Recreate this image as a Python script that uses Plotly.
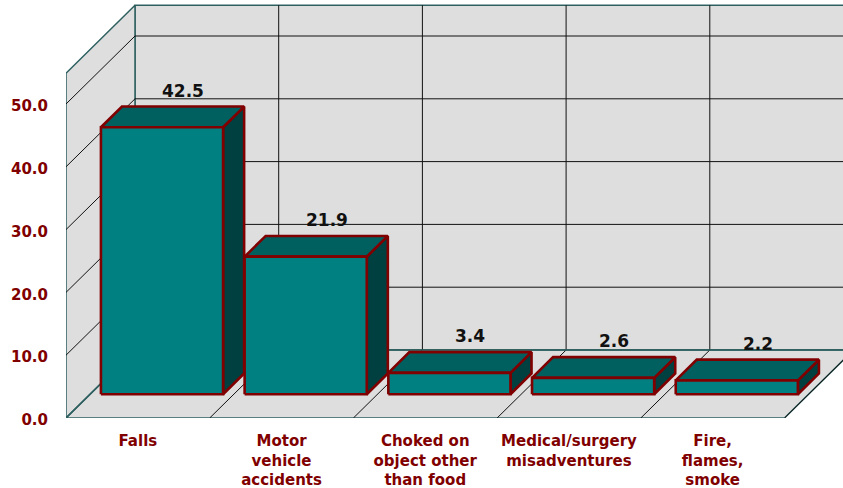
import plotly.graph_objects as go

categories = ["Falls", "Motor<br>vehicle<br>accidents", "Choked on<br>object other<br>than food",
              "Medical/surgery<br>misadventures", "Fire,<br>flames,<br>smoke"]
values = [42.5, 21.9, 3.4, 2.6, 2.2]
value_labels = ["42.5", "21.9", "3.4", "2.6", "2.2"]
y_ticks = [0, 10, 20, 30, 40, 50]
y_tick_labels = ["0.0", "10.0", "20.0", "30.0", "40.0", "50.0"]
y_top = 54.9

# pseudo 3D projection: how far one unit of depth moves a point, in axis units
DEPTH_X = 69 / 143.7
DEPTH_Y = 68 / 6.28
BAR_FRONT = 0.35
BAR_BACK = 0.655
BAR_INSET = 0.075

WALL = "#dedede"
EDGE = "#2f6060"
RED = "#800000"
FONT = "DejaVu Sans"


def pt(x, y, d=0):
    return x + d * DEPTH_X, y + d * DEPTH_Y


def poly(points, fill=None, color=EDGE, width=1.5, closed=True):
    if closed:
        points = points + [points[0]]
    return go.Scatter(
        x=[p[0] for p in points], y=[p[1] for p in points],
        mode="lines", line=dict(color=color, width=width),
        fill="toself" if fill else None, fillcolor=fill,
        hoverinfo="skip", showlegend=False, cliponaxis=False,
    )


n = len(values)
fig = go.Figure()

# walls and floor
fig.add_trace(poly([pt(0, 0, 1), pt(n, 0, 1), pt(n, y_top, 1), pt(0, y_top, 1)], fill=WALL))
fig.add_trace(poly([pt(0, 0), pt(0, 0, 1), pt(0, y_top, 1), pt(0, y_top)], fill=WALL))
fig.add_trace(poly([pt(0, 0), pt(n, 0), pt(n, 0, 1), pt(0, 0, 1)], fill=WALL))

# gridlines
for v in y_ticks[1:]:
    fig.add_trace(poly([pt(0, v), pt(0, v, 1), pt(n, v, 1)], color="#111111", width=1, closed=False))
for i in range(1, n + 1):
    fig.add_trace(poly([pt(i, 0), pt(i, 0, 1), pt(i, y_top, 1)], color="#111111", width=1, closed=False))
fig.add_trace(poly([pt(0, 0), pt(0, 0, 1), pt(n, 0, 1)], closed=False))

# bars, left to right so each one overlaps its neighbour's side face
for i, v in enumerate(values):
    x0, x1 = i + BAR_INSET, i + 1 - BAR_INSET
    fig.add_trace(poly([pt(x1, 0, BAR_FRONT), pt(x1, 0, BAR_BACK), pt(x1, v, BAR_BACK), pt(x1, v, BAR_FRONT)],
                       fill="#004040", color=RED, width=2.6))
    fig.add_trace(poly([pt(x0, v, BAR_FRONT), pt(x1, v, BAR_FRONT), pt(x1, v, BAR_BACK), pt(x0, v, BAR_BACK)],
                       fill="#006060", color=RED, width=2.6))
    fig.add_trace(poly([pt(x0, 0, BAR_FRONT), pt(x1, 0, BAR_FRONT), pt(x1, v, BAR_FRONT), pt(x0, v, BAR_FRONT)],
                       fill="#008080", color=RED, width=2.6))

# value labels sit over the back edge of each bar's top
for i, v in enumerate(values):
    lx, ly = pt(i + 0.5, v, BAR_BACK)
    fig.add_annotation(x=lx, y=ly, text=value_labels[i], showarrow=False, yshift=16,
                       font=dict(family=FONT, size=17, color="#111111", weight="bold"))

fig.update_layout(
    width=843, height=488,
    autosize=False,
    margin=dict(l=0, r=0, t=0, b=0),
    paper_bgcolor="white", plot_bgcolor="rgba(0,0,0,0)",
    showlegend=False,
    xaxis=dict(
        domain=[66 / 843, 1], range=[0, 777 / 143.7],
        tickmode="array", tickvals=[i + 0.5 for i in range(n)], ticktext=categories,
        tickangle=0, ticks="", ticklabelstandoff=12,
        tickfont=dict(family=FONT, size=15, color=RED, weight="bold"),
        showgrid=False, zeroline=False, showline=False, automargin=False,
    ),
    yaxis=dict(
        domain=[70 / 488, 1], range=[0, 418 / 6.28],
        tickmode="array", tickvals=y_ticks, ticktext=y_tick_labels,
        ticks="", ticklabelstandoff=17, ticklabelshift=2,
        tickfont=dict(family=FONT, size=15, color=RED, weight="bold"),
        showgrid=False, zeroline=False, showline=False, automargin=False,
    ),
)

# drop the browser's default page margin so the chart fills the window
fig.write_html("out.html", config={"displayModeBar": False},
               post_script="document.body.style.margin='0';document.documentElement.style.overflow='hidden';")
